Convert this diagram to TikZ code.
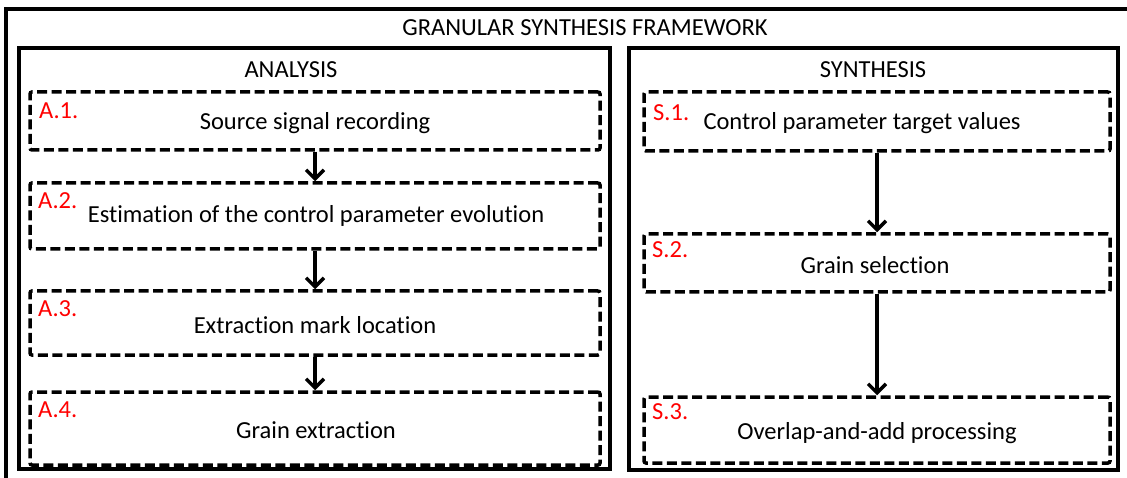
\documentclass[tikz,border=0pt]{standalone}
\usepackage{fontspec}
\setmainfont{Carlito}[Ligatures=NoCommon]
\usetikzlibrary{arrows.meta}
\begin{document}
\begin{tikzpicture}[x=1pt,y=-1pt,
  frame/.style={draw=black,line width=4pt},
  dbox/.style={draw=black,line width=3.5pt,dash pattern=on 10pt off 4.5pt,rounded corners=2pt,inner sep=0pt},
  txt/.style={font=\fontsize{24.5}{29}\selectfont,inner sep=0pt,anchor=center},
  lab/.style={font=\fontsize{24.5}{29}\selectfont,text=red,inner sep=0pt,anchor=west},
  arr/.style={line width=3.5pt,-{Straight Barb[length=9pt,width=18pt,line width=3.5pt]}}]
\useasboundingbox (0,0) rectangle (1127,478);
\clip (0,0) rectangle (1127,478);
\fill[white] (0,0) rectangle (1127,478);
% outer frame
\draw[frame] (6,500) -- (6,9) -- (1150,9);
\node[txt] (title) at (585,28) {GRANULAR SYNTHESIS FRAMEWORK};
% analysis / synthesis panels
\node[frame,minimum width=591pt,minimum height=421pt,inner sep=0pt] (ana) at (314.5,258.5) {};
\node[frame,minimum width=489pt,minimum height=422pt,inner sep=0pt] (syn) at (873.5,259) {};
\node[txt] (anat) at (291,70) {ANALYSIS};
\node[txt] (synt) at (873,70) {SYNTHESIS};
% analysis boxes
\node[dbox,minimum width=570pt,minimum height=58pt] (a1) at (315,121) {};
\node[dbox,minimum width=570pt,minimum height=66pt] (a2) at (315,216) {};
\node[dbox,minimum width=570pt,minimum height=64pt] (a3) at (315,323) {};
\node[dbox,minimum width=570pt,minimum height=73pt] (a4) at (315,428.5) {};
\node[txt] (a1t) at (315,123) {Source signal recording};
\node[txt] (a2t) at (316,216) {Estimation of the control parameter evolution};
\node[txt] (a3t) at (315,325) {Extraction mark location};
\node[txt] (a4t) at (316,430) {Grain extraction};
\node[lab] (a1l) at (39,111) {A.1.};
\node[lab] (a2l) at (38,201) {A.2.};
\node[lab] (a3l) at (38,309) {A.3.};
\node[lab] (a4l) at (38,410) {A.4.};
% synthesis boxes
\node[dbox,minimum width=466pt,minimum height=59pt] (s1) at (877,121.5) {};
\node[dbox,minimum width=466pt,minimum height=58pt] (s2) at (877,263) {};
\node[dbox,minimum width=466pt,minimum height=66pt] (s3) at (877,430) {};
\node[txt] (s1t) at (862,123) {Control parameter target values};
\node[txt] (s2t) at (875,265) {Grain selection};
\node[txt] (s3t) at (877,433) {Overlap-and-add processing};
\node[lab] (s1l) at (653,113) {S.1.};
\node[lab] (s2l) at (652,250) {S.2.};
\node[lab] (s3l) at (652,412) {S.3.};
% arrows
\draw[arr] (a1.south) -- (a2.north);
\draw[arr] (a2.south) -- (a3.north);
\draw[arr] (a3.south) -- (a4.north);
\draw[arr] (s1.south) -- (s2.north);
\draw[arr] (s2.south) -- (s3.north);
\end{tikzpicture}
\end{document}
